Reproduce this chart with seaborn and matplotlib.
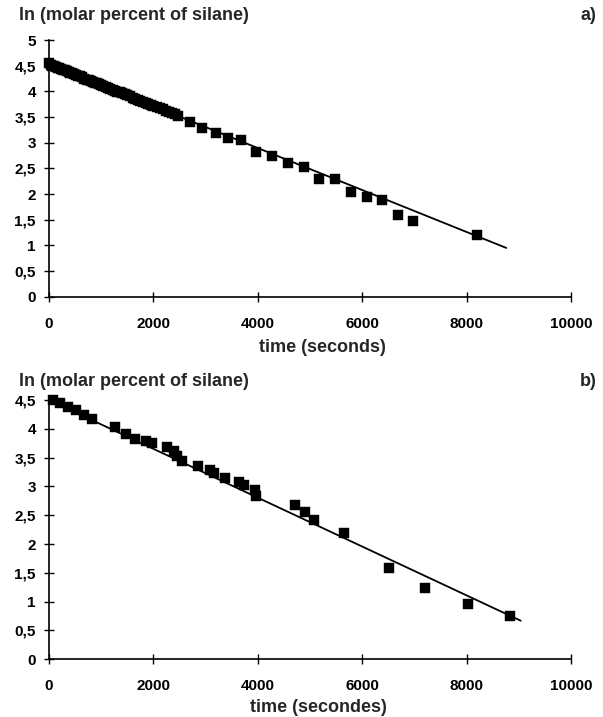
import numpy as np
import pandas as pd
import matplotlib
matplotlib.use("Agg")
import matplotlib.pyplot as plt
import seaborn as sns

# ---------------- data ----------------
# panel a)
a_time = [0, 30, 60, 95, 130, 165, 200, 235, 270, 305, 340, 375, 410, 445,
          480, 520, 560, 600, 640, 680, 720, 760, 800, 840, 880, 920, 960,
          1000, 1040, 1085, 1130, 1175, 1220, 1265, 1310, 1355, 1400, 1450,
          1500, 1550, 1600, 1650, 1700, 1750, 1800, 1850, 1900, 1950, 2000,
          2060, 2120, 2180, 2240, 2300, 2360, 2420, 2480,
          2705, 2933, 3200, 3430, 3676, 3962, 4267, 4577, 4876, 5181, 5486,
          5790, 6095, 6387, 6680, 6977, 8197]
a_ln = [4.55, 4.52, 4.50, 4.49, 4.47, 4.46, 4.45, 4.43, 4.42, 4.41, 4.39, 4.38,
        4.36, 4.35, 4.33, 4.32, 4.30, 4.29, 4.27, 4.25, 4.23, 4.22, 4.20, 4.19,
        4.17, 4.16, 4.14, 4.12, 4.11, 4.09, 4.07, 4.05, 4.03, 4.01, 3.99, 3.98,
        3.96, 3.94, 3.92, 3.90, 3.88, 3.86, 3.84, 3.82, 3.80, 3.78, 3.76, 3.74,
        3.72, 3.70, 3.67, 3.65, 3.62, 3.60, 3.57, 3.55, 3.52,
        3.40, 3.28, 3.18, 3.09, 3.05, 2.82, 2.74, 2.61, 2.53, 2.29, 2.29,
        2.04, 1.95, 1.88, 1.60, 1.47, 1.20]
a_fit_time = [0, 8760]
a_fit_ln = [4.53, 0.95]

# panel b)
b_time = [70, 220, 370, 515, 665, 830, 1255, 1480, 1651, 1850, 1981, 2262,
          2394, 2452, 2552, 2860, 3087, 3163, 3363, 3646, 3741, 3937, 3962,
          4722, 4903, 5070, 5648, 6509, 7207, 8019, 8832]
b_ln = [4.50, 4.44, 4.38, 4.32, 4.24, 4.17, 4.04, 3.91, 3.82, 3.78, 3.75, 3.68,
        3.61, 3.52, 3.45, 3.36, 3.29, 3.24, 3.15, 3.08, 3.02, 2.93, 2.83,
        2.68, 2.56, 2.41, 2.20, 1.58, 1.23, 0.96, 0.76]
b_fit_time = [0, 9036]
b_fit_ln = [4.50, 0.67]

x_ticks = [0, 2000, 4000, 6000, 8000, 10000]
x_tick_labels = ["0", "2000", "4000", "6000", "8000", "10000"]
a_y_ticks = [0, 0.5, 1, 1.5, 2, 2.5, 3, 3.5, 4, 4.5, 5]
a_y_tick_labels = ["0", "0,5", "1", "1,5", "2", "2,5", "3", "3,5", "4", "4,5", "5"]
b_y_ticks = [0, 0.5, 1, 1.5, 2, 2.5, 3, 3.5, 4, 4.5]
b_y_tick_labels = ["0", "0,5", "1", "1,5", "2", "2,5", "3", "3,5", "4", "4,5"]

y_title = "ln (molar percent of silane)"
a_xlabel = "time (seconds)"
b_xlabel = "time (secondes)"

# ---------------- style ----------------
sns.set_theme(style="ticks")
plt.rcParams["font.family"] = ["Liberation Sans", "DejaVu Sans"]
plt.rcParams["font.weight"] = "bold"

W, H = 603, 717
fig = plt.figure(figsize=(W / 100, H / 100), dpi=100)
fig.patch.set_facecolor("white")


def px_axes(l, t, r, b):
    return fig.add_axes([l / W, 1 - b / H, (r - l) / W, (b - t) / H])


def draw_panel(ax, t, y, ft, fy, yticks, ylabels, ymax):
    df = pd.DataFrame({"t": t, "y": y})
    fit = pd.DataFrame({"t": ft, "y": fy})
    sns.lineplot(data=fit, x="t", y="y", ax=ax, color="black", linewidth=1.3)
    sns.scatterplot(data=df, x="t", y="y", ax=ax, marker="s", color="black",
                    s=55, edgecolor="black", linewidth=0.3, zorder=3,
                    clip_on=False)
    ax.set_xlim(0, 10000)
    ax.set_ylim(0, ymax)
    ax.set_xticks(x_ticks)
    ax.set_xticklabels(x_tick_labels)
    ax.set_yticks(yticks)
    ax.set_yticklabels(ylabels)
    ax.set_xlabel("")
    ax.set_ylabel("")
    for s in ["top", "right"]:
        ax.spines[s].set_visible(False)
    for s in ["left", "bottom"]:
        ax.spines[s].set_linewidth(1.2)
        ax.spines[s].set_color("black")
    ax.tick_params(axis="both", direction="inout", length=7, width=1.0,
                   labelsize=11, colors="black")
    ax.tick_params(axis="x", pad=11)
    ax.tick_params(axis="y", pad=6)
    for lab in ax.get_xticklabels() + ax.get_yticklabels():
        lab.set_fontweight("bold")
    ax.set_facecolor("white")
    ax.grid(False)


ax1 = px_axes(49, 40, 571, 296.7)
draw_panel(ax1, a_time, a_ln, a_fit_time, a_fit_ln, a_y_ticks, a_y_tick_labels, 5)
ax2 = px_axes(49, 400, 571, 659.3)
draw_panel(ax2, b_time, b_ln, b_fit_time, b_fit_ln, b_y_ticks, b_y_tick_labels, 4.5)

fig.text(19 / W, 1 - 16 / H, y_title, fontsize=13, fontweight="bold",
         ha="left", va="center")
fig.text(19 / W, 1 - 381 / H, y_title, fontsize=13, fontweight="bold",
         ha="left", va="center")
fig.text(588 / W, 1 - 16 / H, "a)", fontsize=13, fontweight="bold",
         ha="center", va="center")
fig.text(588 / W, 1 - 381 / H, "b)", fontsize=13, fontweight="bold",
         ha="center", va="center")
fig.text(322 / W, 1 - 348 / H, a_xlabel, fontsize=13, fontweight="bold",
         ha="center", va="center")
fig.text(318 / W, 1 - 708 / H, b_xlabel, fontsize=13, fontweight="bold",
         ha="center", va="center")

fig.savefig("out.png", dpi=100, facecolor="white")
